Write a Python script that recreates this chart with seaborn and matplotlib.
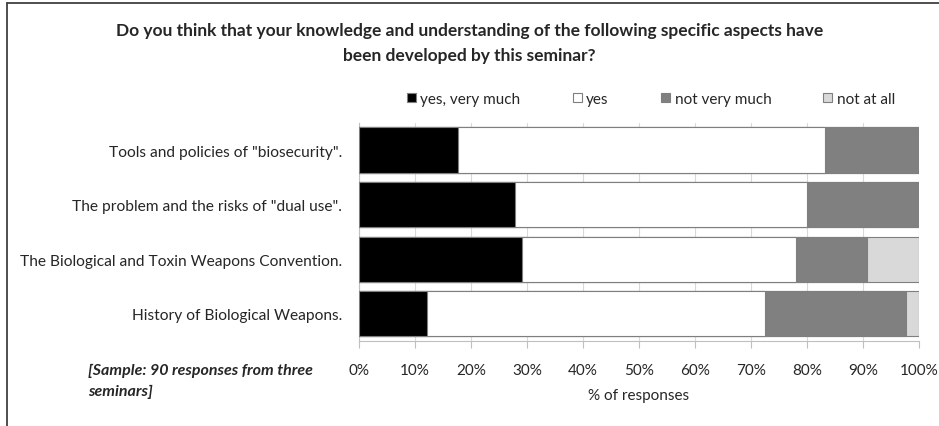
import numpy as np
import pandas as pd
import matplotlib
matplotlib.use("Agg")
import matplotlib.pyplot as plt
import seaborn as sns
from matplotlib.patches import Patch
from matplotlib.lines import Line2D

# values (% of responses)
aspects = [
    'Tools and policies of "biosecurity".',
    'The problem and the risks of "dual use".',
    "The Biological and Toxin Weapons Convention.",
    "History of Biological Weapons.",
]
yes_very_much = [17.8, 27.8, 29.2, 12.1]
yes = [65.4, 52.1, 48.8, 60.4]
not_very_much = [16.8, 20.1, 12.6, 25.2]
not_at_all = [0.0, 0.0, 9.4, 2.3]

series_names = ["yes, very much", "yes", "not very much", "not at all"]
series_colors = ["#000000", "#ffffff", "#808080", "#d9d9d9"]
ticks = np.arange(0, 101, 10)

df = pd.DataFrame({
    "aspect": aspects,
    "yes, very much": yes_very_much,
    "yes": yes,
    "not very much": not_very_much,
    "not at all": not_at_all,
})
cum = df[series_names].cumsum(axis=1)

sns.set_style("white")
plt.rcParams["font.family"] = ["Lato", "DejaVu Sans"]

fig = plt.figure(figsize=(9.39, 4.27), dpi=100)
ax = fig.add_axes([0.382, 0.199, 0.597, 0.511])

# stacked bars: draw cumulative totals from the widest down
for name, color in zip(series_names[::-1], series_colors[::-1]):
    sns.barplot(x=cum[name], y=df["aspect"], orient="h", color=color,
                edgecolor="#7f7f7f", linewidth=0.8, width=0.83, ax=ax,
                zorder=3)

ax.set_xlim(0, 100)
ax.set_xticks(ticks)
ax.set_xticklabels([f"{t}%" for t in ticks], fontsize=11)
ax.tick_params(axis="x", length=5, color="#bfbfbf", pad=11, direction="out",
               bottom=True)
ax.tick_params(axis="y", length=0, pad=12, labelsize=11.2)
ax.grid(axis="x", color="#d9d9d9", linewidth=0.8, zorder=0)
ax.set_axisbelow(True)
ax.set_xlabel("% of responses", fontsize=11, labelpad=8)
ax.set_ylabel("")
for side in ["top", "right"]:
    ax.spines[side].set_visible(False)
for side in ["left", "bottom"]:
    ax.spines[side].set_color("#bfbfbf")
    ax.spines[side].set_linewidth(0.8)

fig.text(0.5, 0.928, "Do you think that your knowledge and understanding of the following specific aspects have",
         ha="center", va="center", fontsize=12.5, fontweight="bold")
fig.text(0.5, 0.870, "been developed by this seminar?",
         ha="center", va="center", fontsize=12.5, fontweight="bold")

handles = [Patch(facecolor=c, edgecolor="#7f7f7f", linewidth=0.8) for c in series_colors]
fig.legend(handles, series_names, loc="center right", bbox_to_anchor=(0.968, 0.766),
           ncol=4, frameon=False, fontsize=11, handlelength=0.6,
           handleheight=0.6, handletextpad=0.3, columnspacing=3.4)

fig.text(0.094, 0.107, "[Sample: 90 responses from three\nseminars]",
         ha="left", va="center", fontsize=11.5, fontweight="bold",
         style="italic", linespacing=1.6)

# chart frame: only the top and left edges fall inside the image
bx, by = 7 / 939, 1 - 4 / 427
fig.add_artist(Line2D([bx, 1.0], [by, by], transform=fig.transFigure,
                      color="#404040", linewidth=1.3))
fig.add_artist(Line2D([bx, bx], [0.0, by], transform=fig.transFigure,
                      color="#404040", linewidth=1.3))

fig.savefig("out.png", dpi=100)
